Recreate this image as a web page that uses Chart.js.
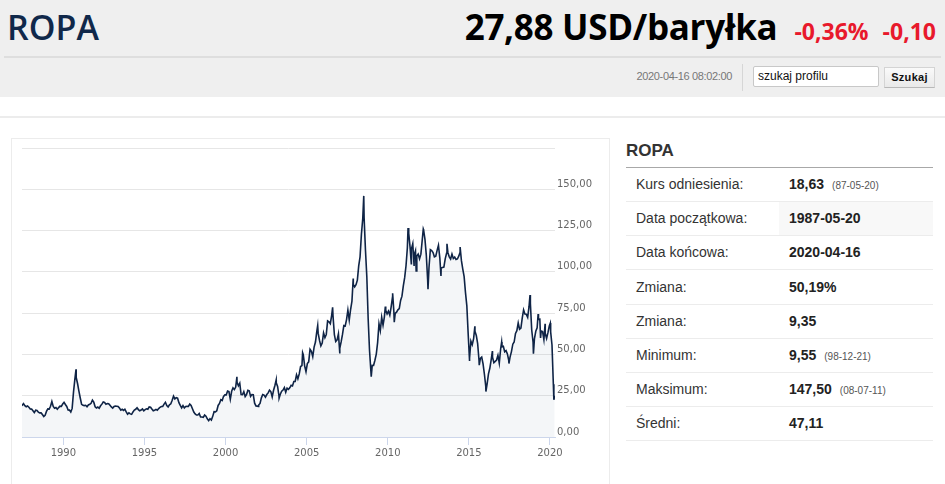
<!DOCTYPE html>
<html>
<head>
<meta charset="utf-8">
<script src="https://cdn.jsdelivr.net/npm/chart.js@4/dist/chart.umd.min.js"></script>
<style>
  body { margin: 0; width: 945px; height: 484px; overflow: hidden; background: #fff; font-family: "Liberation Sans", Arial, sans-serif; position: relative; }
  .abs { position: absolute; }
  #top { left: 0; top: 0; width: 945px; height: 97px; background: #efefef; }
  #title { left: 7px; top: 7px; font: 600 34px/40px "Open Sans", sans-serif; color: #10284a; }
  #price { right: 9px; top: 7px; white-space: nowrap; font-family: "Open Sans", sans-serif; line-height: 40px; }
  #price .big { font-size: 35px; font-weight: bold; color: #000; letter-spacing: -0.3px; }
  #price .chg { font-size: 23px; font-weight: bold; color: #e8192c; margin-left: 14px; }
  #hr1 { left: 4px; top: 56px; width: 937px; height: 2px; background: #dedede; }
  #stamp { right: 213px; top: 70px; font-size: 11px; color: #777; letter-spacing: -0.35px; }
  #sep { left: 742px; top: 64px; width: 1px; height: 27px; background: #d6d6d6; }
  #search { left: 753px; top: 66px; width: 120px; height: 19px; border: 1px solid #c8c8c8; border-radius: 2px; background: #fff; font-size: 12px; line-height: 19px; padding-left: 4px; color: #111; }
  #btn { left: 884px; top: 67px; width: 49px; height: 19px; border: 1px solid #d4d4d4; border-bottom-color: #b8b8b8; background: linear-gradient(#fafafa, #e9e9e9); font-size: 11px; font-weight: bold; line-height: 19px; text-align: center; color: #111; letter-spacing: 0.3px; }
  #hr2 { left: 0; top: 116px; width: 945px; height: 2px; background: #ececec; }
  #box { left: 11px; top: 138px; width: 597px; height: 400px; border: 1px solid #ececec; }
  #wrap { left: 12px; top: 139px; width: 596px; height: 345px; }
  #sideTitle { left: 626px; top: 141px; font-size: 17px; font-weight: bold; color: #333; }
  #sideLine { left: 626px; top: 167px; width: 307px; height: 1px; background: #a8a8a8; }
  .row { left: 626px; width: 307px; height: 33px; border-bottom: 1px solid #ececec; font-size: 14px; line-height: 33px; color: #333; }
  .row .lab { position: absolute; left: 10px; }
  .row .val { position: absolute; left: 153px; right: 0; padding-left: 10px; font-weight: bold; color: #222; }
  .row .val.shade { background: #f8f8f8; }
  .row small { font-size: 10px; font-weight: normal; color: #555; margin-left: 8px; }
</style>
</head>
<body>
<div id="top" class="abs"></div>
<div id="title" class="abs">ROPA</div>
<div id="price" class="abs"><span class="big">27,88 USD/baryłka</span><span class="chg" style="margin-left:17px">-0,36%</span><span class="chg">-0,10</span></div>
<div id="hr1" class="abs"></div>
<div id="stamp" class="abs">2020-04-16 08:02:00</div>
<div id="sep" class="abs"></div>
<div id="search" class="abs">szukaj profilu</div>
<div id="btn" class="abs">Szukaj</div>
<div id="hr2" class="abs"></div>
<div id="box" class="abs"></div>
<div id="wrap" class="abs"><canvas id="chart"></canvas></div>
<div id="sideTitle" class="abs">ROPA</div>
<div id="sideLine" class="abs"></div>
<div id="rows"></div>

<script>
// monthly prices, USD/barrel, starting May 1987 and ending March 2020
const firstYear = 1987;
const firstMonth = 5;
const monthlyPrices = [
  19.0, 19.2, 20.2, 19.0, 18.3, 18.8, 18.0, 17.0,                      // 1987
  16.9, 15.9, 14.8, 16.2, 16.0, 15.1, 14.6, 14.6, 13.6, 12.4, 13.1, 15.5, // 1988
  17.0, 16.9, 18.6, 21.5, 18.5, 17.4, 17.8, 16.8, 17.8, 18.7, 18.6, 20.0, // 1989
  21.0, 19.7, 18.5, 16.4, 16.3, 15.1, 17.3, 27.2, 34.9, 36.0, 32.4, 27.8, // 1990
  23.6, 19.8, 19.2, 19.0, 19.2, 18.3, 19.4, 19.8, 20.4, 22.3, 21.1, 18.3, // 1991
  17.6, 18.1, 17.4, 18.9, 19.9, 21.2, 20.9, 19.9, 20.3, 20.2, 19.2, 18.2, // 1992
  17.5, 18.5, 18.7, 18.6, 18.5, 17.5, 16.3, 16.8, 16.1, 16.8, 15.2, 13.8, // 1993
  14.6, 14.0, 13.7, 15.2, 16.3, 16.8, 17.7, 16.6, 15.9, 16.3, 17.0, 15.9, // 1994
  16.6, 17.1, 16.8, 18.2, 18.0, 16.9, 15.9, 16.2, 16.7, 16.2, 17.2, 18.0, // 1995
  18.5, 18.5, 19.9, 21.0, 19.0, 18.2, 19.5, 20.1, 22.3, 24.8, 23.1, 23.8, // 1996
  23.5, 20.8, 19.1, 17.6, 19.0, 17.6, 18.5, 18.6, 18.5, 19.9, 19.1, 17.1, // 1997
  15.1, 14.0, 13.3, 13.3, 14.2, 12.1, 12.1, 11.9, 13.3, 12.6, 11.0, 9.9,  // 1998
  11.1, 10.3, 12.5, 15.3, 15.2, 15.9, 19.1, 20.3, 22.6, 22.1, 24.6, 25.5, // 1999
  25.5, 27.8, 27.5, 22.8, 27.7, 29.8, 28.7, 30.2, 33.1, 31.0, 32.6, 25.7, // 2000
  25.6, 27.5, 24.5, 25.7, 28.3, 27.9, 24.6, 25.7, 25.6, 20.5, 18.8, 18.7, // 2001
  19.4, 20.3, 23.7, 25.7, 25.4, 24.1, 25.7, 26.7, 28.4, 27.5, 24.3, 28.3, // 2002
  31.2, 32.8, 30.6, 25.0, 25.9, 27.7, 28.4, 29.9, 27.1, 29.6, 28.8, 29.8, // 2003
  31.3, 30.9, 33.6, 33.6, 37.6, 35.2, 38.2, 42.7, 43.2, 49.8, 43.1, 39.6, // 2004
  44.5, 45.5, 53.1, 51.9, 48.7, 54.4, 57.5, 64.0, 62.9, 58.5, 55.2, 56.9, // 2005
  63.0, 60.2, 62.1, 70.3, 69.8, 68.6, 73.7, 73.2, 62.0, 57.8, 58.8, 62.5, // 2006
  53.7, 57.6, 62.1, 67.5, 67.2, 71.1, 76.9, 70.8, 77.2, 82.3, 92.4, 90.9, // 2007
  92.2, 95.0, 103.6, 109.1, 122.8, 132.3, 132.7, 113.2, 97.2, 71.6, 52.5, 40.0, // 2008
  43.4, 43.3, 46.5, 50.2, 57.3, 68.6, 64.4, 72.5, 67.7, 72.8, 76.7, 74.5, // 2009
  76.2, 73.8, 78.8, 84.8, 76.0, 74.8, 75.6, 77.0, 77.8, 82.7, 85.3, 91.5, // 2010
  96.5, 103.7, 114.6, 123.3, 115.0, 113.8, 117.0, 110.2, 112.8, 109.6, 110.8, 107.9, // 2011
  110.7, 119.3, 125.5, 119.8, 110.3, 95.2, 102.6, 113.4, 112.9, 111.7, 109.1, 109.5, // 2012
  113.0, 116.1, 108.5, 102.3, 102.6, 102.9, 107.9, 111.3, 111.6, 109.1, 107.8, 110.8, // 2013
  108.1, 108.9, 107.5, 107.8, 109.5, 111.8, 106.8, 101.6, 97.1, 87.4, 79.4, 62.3, // 2014
  47.8, 58.1, 55.9, 59.5, 64.1, 61.5, 56.6, 46.5, 47.6, 48.4, 44.3, 38.0, // 2015
  30.7, 32.2, 38.2, 41.6, 46.7, 48.3, 45.0, 45.8, 46.6, 49.5, 44.7, 53.3, // 2016
  54.6, 54.9, 51.6, 52.3, 50.3, 46.4, 48.5, 51.7, 56.2, 57.5, 62.7, 64.4, // 2017
  69.1, 65.3, 66.0, 72.1, 77.0, 74.4, 74.3, 72.5, 78.9, 81.0, 64.8, 57.4, // 2018
  59.4, 64.0, 66.1, 71.2, 71.3, 64.2, 63.9, 59.0, 62.8, 59.7, 63.2, 67.3, // 2019
  63.7, 55.7, 32.0                                                      // 2020
];

// single-day highs and lows (decimal year, price)
const spikeDates = [
  1990.78, 2000.70, 2002.02, 2003.12, 2003.30, 2004.75, 2005.68, 2006.60, 2007.04, 2007.87,
  2008.52, 2008.98, 2009.85, 2010.30, 2010.40, 2011.25, 2011.45, 2011.62, 2011.75, 2012.19,
  2012.48, 2013.28, 2013.65, 2014.46, 2015.04, 2015.37, 2015.64, 2016.05, 2016.45, 2017.02,
  2017.47, 2018.77, 2018.98, 2019.27, 2019.42, 2019.70, 2020.02, 2020.24, 2020.29
];
const spikeValues = [
  41.0, 36.5, 18.5, 34.5, 23.5, 51.0, 67.5, 78.5, 51.0, 96.0,
  146.0, 36.5, 79.0, 87.0, 69.5, 126.5, 105.0, 104.0, 100.5, 126.0,
  89.5, 97.5, 117.0, 115.0, 46.5, 67.0, 43.5, 27.5, 52.0, 57.5,
  44.5, 86.0, 50.5, 74.5, 60.0, 68.5, 69.0, 22.5, 25.0
];

const xTickYears = [1990, 1995, 2000, 2005, 2010, 2015, 2020];
const yTickValues = [0, 25, 50, 75, 100, 125, 150, 175];
const yTickLabels = ['0,00', '25,00', '50,00', '75,00', '100,00', '125,00', '150,00', ''];

const statLabels = ['Kurs odniesienia:', 'Data początkowa:', 'Data końcowa:', 'Zmiana:', 'Zmiana:', 'Minimum:', 'Maksimum:', 'Średni:'];
const statValues = ['18,63', '1987-05-20', '2020-04-16', '50,19%', '9,35', '9,55', '147,50', '47,11'];
const statNotes  = ['(87-05-20)', '', '', '', '', '(98-12-21)', '(08-07-11)', ''];

// side table
const rows = document.getElementById('rows');
statLabels.forEach((lab, i) => {
  const r = document.createElement('div');
  r.className = 'row abs';
  r.style.top = (168 + i * 34.2) + 'px';
  const note = statNotes[i] ? '<small>' + statNotes[i] + '</small>' : '';
  r.innerHTML = '<span class="lab">' + lab + '</span><span class="val' + (i === 1 ? ' shade' : '') + '">' + statValues[i] + note + '</span>';
  rows.appendChild(r);
});

// build points
let points = monthlyPrices.map((v, i) => ({ x: firstYear + (firstMonth - 1 + i + 0.5) / 12, y: v }));
spikeDates.forEach((d, i) => points.push({ x: d, y: spikeValues[i] }));
points.sort((a, b) => a.x - b.x);

const axisFont = { size: 10, family: 'DejaVu Sans' };

new Chart(document.getElementById('chart').getContext('2d'), {
  type: 'line',
  data: {
    datasets: [{
      data: points,
      borderColor: '#0f2446',
      borderWidth: 1.6,
      backgroundColor: 'rgba(40, 70, 120, 0.05)',
      fill: 'origin',
      pointRadius: 0,
      tension: 0
    }]
  },
  options: {
    responsive: true,
    maintainAspectRatio: false,
    animation: false,
    layout: { padding: { left: 10, top: 9, right: 0, bottom: 0 } },
    plugins: { legend: { display: false }, tooltip: { enabled: false } },
    scales: {
      x: {
        type: 'linear',
        min: 1987.45,
        max: 2020.31,
        afterBuildTicks: scale => { scale.ticks = xTickYears.map(v => ({ value: v })); },
        afterFit: scale => { scale.height = 47; },
        grid: { drawOnChartArea: false, drawTicks: true, tickLength: 8, color: '#ccd6eb' },
        border: { display: true, color: '#ccd6eb', width: 1 },
        ticks: { color: '#666', font: axisFont, padding: 2, maxRotation: 0, callback: v => String(v) }
      },
      y: {
        position: 'right',
        min: 0,
        max: 175,
        afterBuildTicks: scale => { scale.ticks = yTickValues.map(v => ({ value: v })); },
        afterFit: scale => { scale.width = 53; },
        grid: { color: '#e6e6e6', lineWidth: 1, drawTicks: false },
        border: { display: false },
        ticks: { color: '#666', font: axisFont, padding: 2, labelOffset: -5, callback: (v, i) => yTickLabels[i] }
      }
    }
  }
});
</script>
</body>
</html>
